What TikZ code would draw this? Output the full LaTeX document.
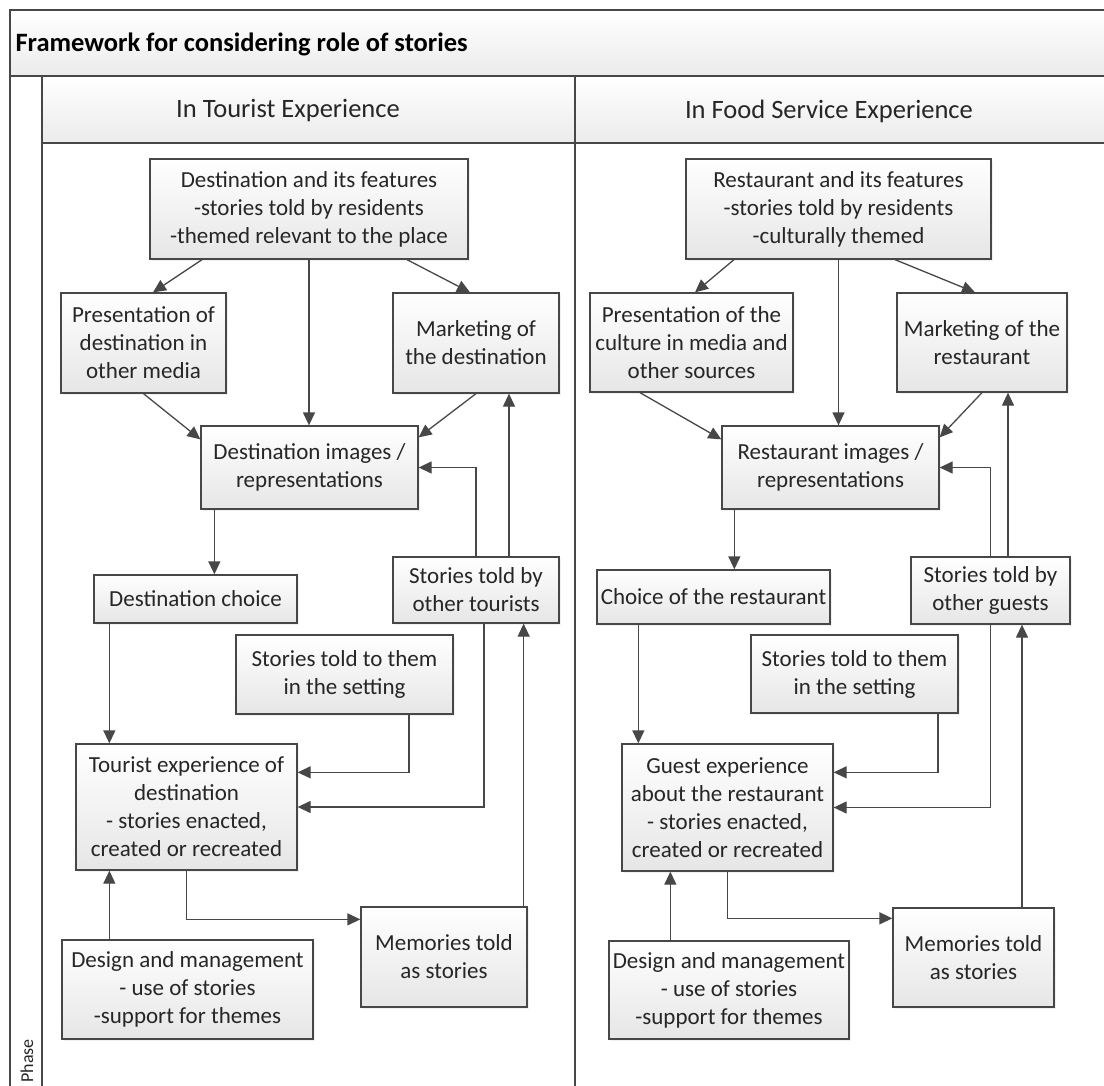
\documentclass[tikz,border=0pt]{standalone}
\usepackage{fontspec}
\setmainfont{Carlito}
\usetikzlibrary{arrows.meta,shadows}

\definecolor{linec}{HTML}{474747}
\definecolor{boxbot}{HTML}{E6E6E6}
\definecolor{bandbot}{HTML}{EBEBEB}
\definecolor{txtc}{HTML}{262626}

\tikzset{
  box/.style={draw=linec, line width=1.3pt, top color=white, bottom color=boxbot,
    align=center, inner sep=1pt, text=txtc, font=\fontsize{23}{28}\selectfont,
    drop shadow={opacity=0.12, shadow xshift=2pt, shadow yshift=-2pt}},
  arr/.style={draw=linec, line width=1.3pt, -{Triangle[length=13pt,width=12pt]}},
  band/.style={draw=linec, line width=1.2pt, top color=white, bottom color=bandbot},
}

\begin{document}
\begin{tikzpicture}[x=1pt,y=-1pt]
\useasboundingbox (0,0) rectangle (1104,1086);
\clip (0,0) rectangle (1104,1086);

%%%%%%%%%%%%%%%%%%%%%%%% frame
\path[band] (10,10) rectangle (1120,76);
\draw[linec, line width=1.2pt, fill=white] (10,76) rectangle (42,1100);
\path[band] (42,76) rectangle (1120,143);
\draw[linec, line width=1.8pt] (42,143) -- (1120,143);
\draw[linec, line width=1.2pt] (42,143) rectangle (1120,1100);
\draw[linec, line width=1.2pt] (575,76) -- (575,1100);

\node[anchor=west, text=black, font=\fontsize{26.5}{30}\selectfont\bfseries] (title) at (12,44) {Framework for considering role of stories};
\node[rotate=90, text=txtc, font=\fontsize{18}{20}\selectfont] (phase) at (27,1061) {Phase};
\node[text=txtc, font=\fontsize{26.5}{30}\selectfont] (laneT) at (288,111) {In Tourist Experience};
\node[text=txtc, font=\fontsize{26.5}{30}\selectfont] (laneR) at (829,111) {In Food Service Experience};

%%%%%%%%%%%%%%%%%%%%%%%% tourist lane
\node[box, minimum width=318, minimum height=100] (destT) at (309,209) {Destination and its features\\-stories told by residents\\-themed relevant to the place};
\node[box, minimum width=165, minimum height=100] (presT) at (143.5,343) {Presentation of\\destination in\\other media};
\node[box, minimum width=166, minimum height=100] (mktT) at (476,343) {Marketing of\\the destination};
\node[box, minimum width=217, minimum height=83] (imgT) at (309.5,467.5) {Destination images /\\representations};
\node[box, minimum width=203, minimum height=48] (choiceT) at (195.5,599) {Destination choice};
\node[box, minimum width=166, minimum height=66] (othersT) at (476,590) {Stories told by\\other tourists};
\node[box, minimum width=217, minimum height=79] (settingT) at (344.5,674.5) {Stories told to them\\in the setting};
\node[box, minimum width=221, minimum height=126] (expT) at (186.5,807) {Tourist experience of\\destination\\- stories enacted,\\created or recreated};
\node[box, minimum width=166, minimum height=100] (memT) at (444,957) {Memories told\\as stories};
\node[box, minimum width=251, minimum height=99] (designT) at (187.5,989.5) {Design and management\\- use of stories\\-support for themes};

\draw[arr] ([xshift=-107pt]destT.south) -- ([xshift=9.5pt]presT.north);
\draw[arr] ([xshift=98pt]destT.south) -- ([xshift=-6pt]mktT.north);
\draw[arr] (destT.south) -- (destT.south |- imgT.north);
\draw[arr] (presT.south) -- ([yshift=-14pt]imgT.north west);
\draw[arr] (mktT.south) -- ([yshift=-12pt]imgT.north east);
\draw[arr] (othersT.north) |- (imgT.east);
\draw[arr] ([xshift=33pt]othersT.north) -- ([xshift=33pt]othersT.north |- mktT.south);
\draw[arr] ([xshift=14pt]imgT.south west) -- ([xshift=14pt]imgT.south west |- choiceT.north);
\draw[arr] ([xshift=16pt]choiceT.south west) -- ([xshift=16pt]choiceT.south west |- expT.north);
\draw[arr] ([xshift=64.5pt]settingT.south) |- ([yshift=-29pt]expT.north east);
\draw[arr] ([xshift=8pt]othersT.south) |- (expT.east);
\draw[arr] (expT.south) |- ([yshift=-13pt]memT.north west);
\draw[arr] ([xshift=-4pt]memT.north east) -- ([xshift=-4pt]memT.north east |- othersT.south);
\draw[arr] ([xshift=48pt]designT.north west) -- ([xshift=48pt]designT.north west |- expT.south);

%%%%%%%%%%%%%%%%%%%%%%%% food service lane
\node[box, minimum width=305, minimum height=100] (destR) at (838.5,209) {Restaurant and its features\\-stories told by residents\\-culturally themed};
\node[box, minimum width=203, minimum height=99] (presR) at (691.5,342.5) {Presentation of the\\culture in media and\\other sources};
\node[box, minimum width=170, minimum height=99] (mktR) at (982,342.5) {Marketing of the\\restaurant};
\node[box, minimum width=217, minimum height=83] (imgR) at (830.5,467.5) {Restaurant images /\\representations};
\node[box, minimum width=233, minimum height=54] (choiceR) at (713.5,597) {Choice of the restaurant};
\node[box, minimum width=159, minimum height=67] (othersR) at (990.5,590.5) {Stories told by\\other guests};
\node[box, minimum width=207, minimum height=78] (settingR) at (854.5,674) {Stories told to them\\in the setting};
\node[box, minimum width=211, minimum height=127] (expR) at (727.5,807.5) {Guest experience\\about the restaurant\\- stories enacted,\\created or recreated};
\node[box, minimum width=161, minimum height=99] (memR) at (973.5,957.5) {Memories told\\as stories};
\node[box, minimum width=240, minimum height=98] (designR) at (729,990) {Design and management\\- use of stories\\-support for themes};

\draw[arr] ([xshift=-104.5pt]destR.south) -- ([xshift=3.5pt]presR.north);
\draw[arr] ([xshift=56.5pt]destR.south) -- ([xshift=-7pt]mktR.north);
\draw[arr] (destR.south) -- (destR.south |- imgR.north);
\draw[arr] ([xshift=-51.5pt]presR.south) -- ([yshift=-14pt]imgR.north west);
\draw[arr] (mktR.south) -- ([yshift=-12pt]imgR.north east);
\draw[arr] (othersR.north) |- (imgR.east);
\draw[arr] ([xshift=17.5pt]othersR.north) -- ([xshift=17.5pt]othersR.north |- mktR.south);
\draw[arr] ([xshift=13pt]imgR.south west) -- ([xshift=13pt]imgR.south west |- choiceR.north);
\draw[arr] ([xshift=42pt]choiceR.south west) -- ([xshift=42pt]choiceR.south west |- expR.north);
\draw[arr] ([xshift=83.5pt]settingR.south) |- ([yshift=-29pt]expR.north east);
\draw[arr] (othersR.south) |- (expR.east);
\draw[arr] (expR.south) |- ([yshift=-11pt]memR.north west);
\draw[arr] ([xshift=48.5pt]memR.north) -- ([xshift=48.5pt]memR.north |- othersR.south);
\draw[arr] ([xshift=62pt]designR.north west) -- ([xshift=62pt]designR.north west |- expR.south);

\end{tikzpicture}
\end{document}
